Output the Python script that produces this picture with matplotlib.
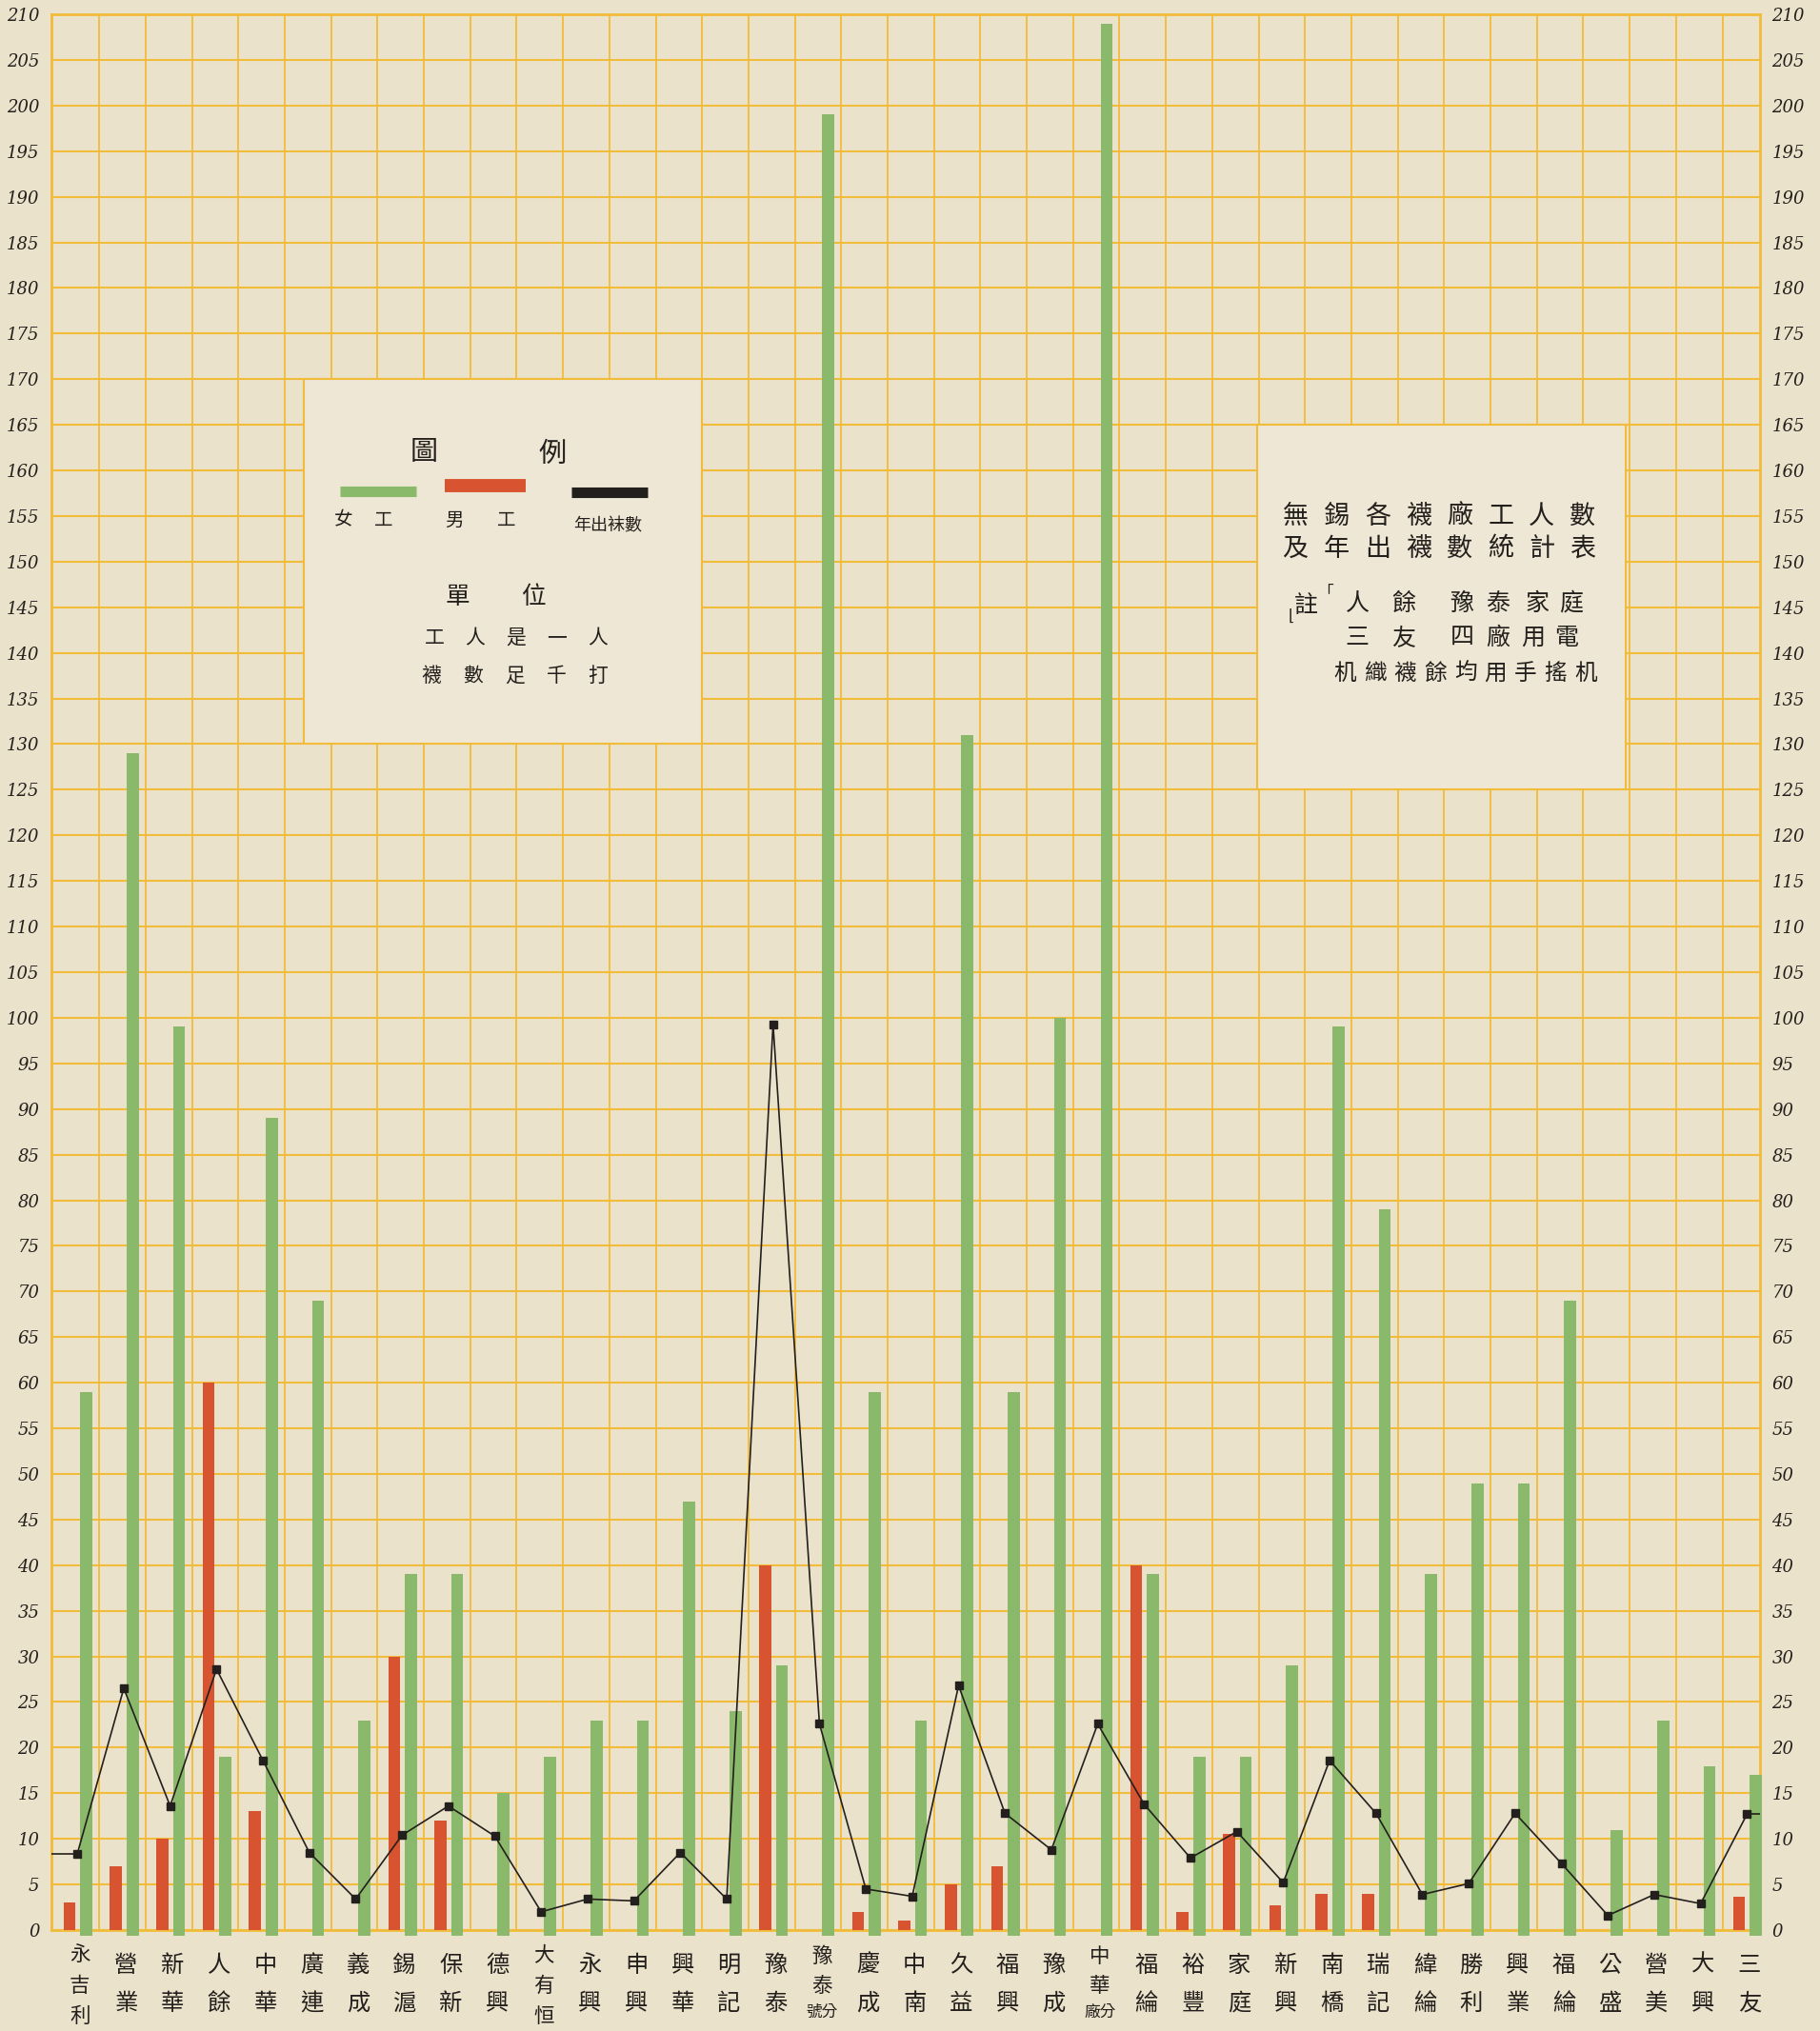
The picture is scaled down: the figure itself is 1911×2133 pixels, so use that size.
import matplotlib
matplotlib.use("Agg")
import matplotlib.pyplot as plt
import matplotlib.transforms as mtransforms
from matplotlib.patches import Rectangle
from matplotlib.lines import Line2D
import numpy as np

plt.rcParams['font.family'] = ['Noto Sans CJK TC', 'DejaVu Sans']

# Factories (left to right)
factories = ["永吉利", "營業", "新華", "人餘", "中華", "廣連", "義成", "錫滬", "保新", "德興",
             "大有恒", "永興", "申興", "興華", "明記", "豫泰", "豫泰號分", "慶成", "中南", "久益",
             "福興", "豫成", "中華廠分", "福綸", "裕豐", "家庭", "新興", "南橋", "瑞記", "緯綸",
             "勝利", "興業", "福綸", "公盛", "營美", "大興", "三友"]
# female workers (persons)
women = [59, 129, 99, 19, 89, 69, 23, 39, 39, 15,
         19, 23, 23, 47, 24, 29, 199, 59, 23, 131,
         59, 100, 209, 39, 19, 19, 29, 99, 79, 39,
         49, 49, 69, 11, 23, 18, 17]
# male workers (persons)
men = [3, 7, 10, 60, 13, 0, 0, 30, 12, 0,
       0, 0, 0, 0, 0, 40, 0, 2, 1, 5,
       7, 0, 0, 40, 2, 10.5, 2.7, 4, 4, 0,
       0, 0, 0, 0, 0, 0, 3.7]
# yearly sock output (thousand dozen)
socks = [8.4, 26.5, 13.6, 28.6, 18.6, 8.5, 3.4, 10.4, 13.6, 10.3,
         2.0, 3.4, 3.2, 8.5, 3.4, 99.3, 22.6, 4.5, 3.7, 26.8,
         12.8, 8.8, 22.6, 13.8, 7.9, 10.8, 5.2, 18.6, 12.8, 3.9,
         5.1, 12.8, 7.3, 1.6, 3.9, 2.9, 12.7]
yticks = list(range(0, 211, 5))

W, H = 1911, 2133
paper = '#ebe2cc'
box_paper = '#eee7d5'
grid_c = '#f0bc3a'
green = '#8bb96b'
red = '#d8532f'
ink = '#231f1c'

fig = plt.figure(figsize=(W / 100, H / 100), dpi=100, facecolor=paper)
ax = fig.add_axes([54 / W, 1 - 2027 / H, (1848 - 54) / W, (2027 - 15) / H])
ax.set_facecolor(paper)
ax.set_xlim(-0.56, 36.28)
ax.set_ylim(0, 210)

# hand-ruled grid
for v in yticks:
    ax.axhline(v, color=grid_c, lw=1.5, zorder=1)
x = np.arange(len(factories))
for gx in x[:-1] + 0.47:
    ax.axvline(gx, color=grid_c, lw=1.3, zorder=1)
for s in ax.spines.values():
    s.set_color(grid_c)
    s.set_linewidth(2.0)

# pasted paper boxes (legend and title)
ax.add_patch(Rectangle((4.88, 130), 13.47 - 4.88, 40, facecolor=box_paper,
                       edgecolor=grid_c, lw=1.5, zorder=2))
ax.add_patch(Rectangle((25.43, 125), 33.39 - 25.43, 40, facecolor=box_paper,
                       edgecolor=grid_c, lw=1.5, zorder=2))

# bars
ax.bar(x + 0.19, np.array(women) + 0.6, bottom=-0.6, width=0.26, color=green,
       zorder=3, clip_on=False)
ax.bar(x - 0.17, men, width=0.26, color=red, zorder=3)

# sock output line, ruled in from both margins
ax.plot(x, socks, color=ink, lw=1.2, marker='s', ms=5.5, zorder=4)
x0, x1 = ax.get_xlim()
ax.plot([x0, x[0]], [socks[0], socks[0]], color=ink, lw=1.2, zorder=4)
ax.plot([x[-1], x1], [socks[-1], socks[-1]], color=ink, lw=1.2, zorder=4)

# y ticks on both sides
ax.set_yticks(yticks)
ax.set_yticklabels([str(t) for t in yticks])
ax.tick_params(axis='y', length=0, pad=9, labelsize=13, labelright=True,
               labelcolor=ink)
for lab in ax.get_yticklabels():
    lab.set_fontfamily('DejaVu Serif')
    lab.set_fontstyle('italic')
ax.set_xticks([])

# factory names written vertically
tr = mtransforms.blended_transform_factory(ax.transData, fig.transFigure)
for i, name in enumerate(factories):
    if len(name) == 2:
        rows = [(name[0], 2064, 17.5), (name[1], 2104, 17.5)]
    elif len(name) == 3:
        rows = [(name[0], 2053, 15.5), (name[1], 2086, 15.5), (name[2], 2118, 15.5)]
    else:
        rows = [(name[0], 2055, 15.5), (name[1], 2086, 15.5), (name[2:], 2113, 12)]
    for ch, yy, fs in rows:
        ax.text(i + 0.05, 1 - yy / H, ch, transform=tr, ha='center', va='center',
                fontsize=fs, color=ink, fontweight='medium')


def ftext(px, py, s, size):
    fig.text(px / W, 1 - py / H, s, fontsize=size, ha='center', va='center',
             color=ink, fontweight='medium')


def spaced(xs, py, s, size):
    # one character per given x position (full-size pixels)
    for px, ch in zip(xs, s):
        ftext(px, py, ch, size)


def even(xa, xb, py, s, size):
    step = (xb - xa) / (len(s) - 1)
    spaced([xa + k * step for k in range(len(s))], py, s, size)


# legend box
ftext(445, 475, "圖", 21)
ftext(580, 477, "例", 21)
for (xa, xb, yy, lw, c) in [(357, 437, 516, 8, green), (467, 552, 510, 10, red),
                            (600, 680, 517, 8, ink)]:
    fig.add_artist(Line2D([xa / W, xb / W], [1 - yy / H, 1 - yy / H], color=c,
                          lw=lw, solid_capstyle='butt'))
spaced([361, 403, 477, 532], 546, "女工男工", 14)
ftext(638, 552, "年出袜數", 13)
spaced([480, 560], 627, "單位", 18.5)
even(456, 628, 670, "工人是一人", 15)
even(453, 628, 710, "襪數足千打", 15)

# title box
even(1360, 1662, 542, "無錫各襪廠工人數", 19.5)
even(1360, 1662, 576, "及年出襪數統計表", 19.5)
ftext(1371, 636, "註", 18)
ftext(1391, 622, "「", 12)
ftext(1356, 648, "⌊", 12)
spaced([1425, 1474, 1535, 1573, 1614, 1650], 634, "人餘豫泰家庭", 18)
spaced([1425, 1474, 1535, 1573, 1610, 1645], 670, "三友四廠用電", 18)
even(1412, 1665, 707, "机織襪餘均用手搖机", 17)

fig.savefig("out.png", dpi=100, facecolor=paper)
